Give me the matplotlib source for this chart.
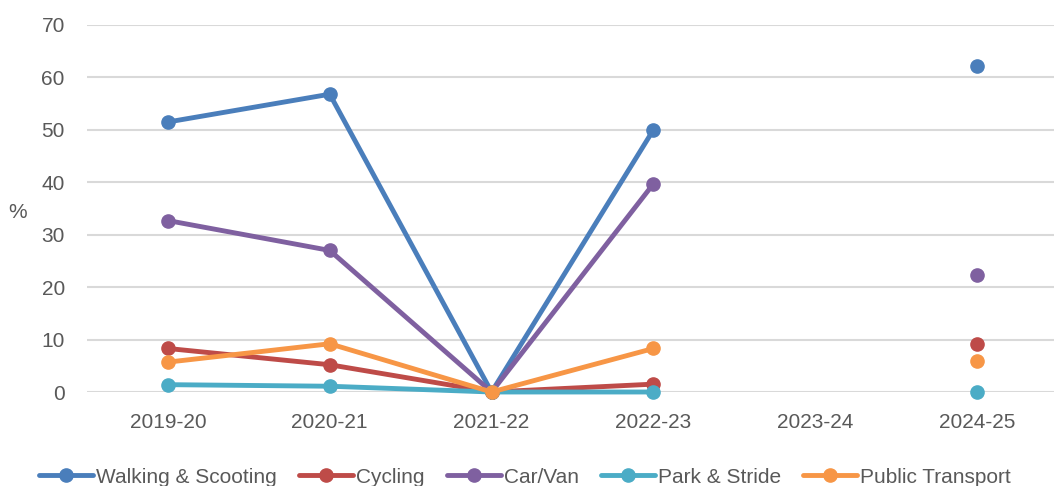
import numpy as np
import matplotlib
matplotlib.use("Agg")
import matplotlib.pyplot as plt

years = ["2019-20", "2020-21", "2021-22", "2022-23", "2023-24", "2024-25"]
walking = [51.5, 56.8, 0.0, 50.0, np.nan, 62.2]
cycling = [8.3, 5.2, 0.0, 1.5, np.nan, 9.2]
car_van = [32.7, 27.0, 0.0, 39.7, np.nan, 22.4]
park_stride = [1.4, 1.1, 0.0, 0.0, np.nan, 0.0]
public_transport = [5.7, 9.2, 0.0, 8.3, np.nan, 6.0]

series = [
    ("Walking & Scooting", walking, "#4A7EBB"),
    ("Cycling", cycling, "#BE4B48"),
    ("Car/Van", car_van, "#7F60A0"),
    ("Park & Stride", park_stride, "#4BACC6"),
    ("Public Transport", public_transport, "#F79646"),
]

plt.rcParams['font.family'] = ['Liberation Sans', 'DejaVu Sans']

fig = plt.figure(figsize=(10.54, 4.86), dpi=100)
ax = fig.add_axes([87/1054, 1-392/486, (1058-87)/1054, (392-25)/486])

x = np.arange(len(years))
for name, vals, col in series:
    ax.plot(x, vals, color=col, lw=3.5, marker='o', ms=9.5, label=name,
            clip_on=False, zorder=3, solid_capstyle='round')

ax.set_xlim(-0.5, 5.5)
ax.set_ylim(0, 70)
ax.set_yticks(range(0, 71, 10))
ax.set_xticks(x)
ax.set_xticklabels(years)
ax.yaxis.grid(True, color='#D9D9D9', lw=1.5)
ax.set_axisbelow(True)
for s in ax.spines.values():
    s.set_visible(False)
ax.tick_params(axis='both', length=0, labelsize=15, colors='#595959')
ax.tick_params(axis='x', pad=15)
ax.tick_params(axis='y', pad=16)

fig.text(18/1054, 1-213/486, "%", fontsize=15, color='#595959', ha='center', va='center')

leg = fig.legend(loc='center', bbox_to_anchor=(525/1054, 1-477/486), ncol=5,
                 frameon=False, fontsize=15, handlelength=2.6, handletextpad=0.15,
                 columnspacing=1.05, borderaxespad=0)
for t in leg.get_texts():
    t.set_color('#595959')

fig.savefig("out.png", dpi=100)
